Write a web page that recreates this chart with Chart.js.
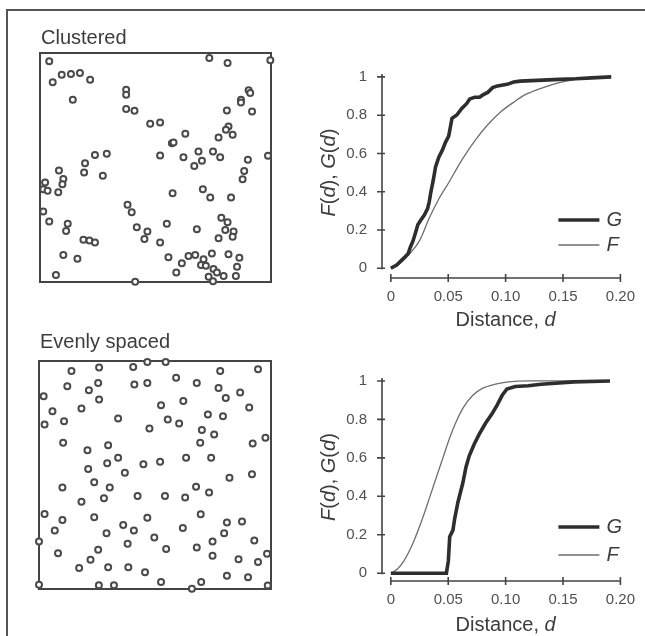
<!DOCTYPE html>
<html><head><meta charset="utf-8">
<script src="https://cdn.jsdelivr.net/npm/chart.js@4.4.1/dist/chart.umd.min.js"></script>
<style>
html,body{margin:0;padding:0;background:#fff;}
#wrap{position:relative;width:645px;height:636px;overflow:hidden;background:#fff;}
canvas{position:absolute;}
#frameTop{position:absolute;left:6px;top:9px;width:660px;height:0;border-top:2px solid #555;}
#frameLeft{position:absolute;left:6px;top:9px;width:0;height:660px;border-left:2px solid #555;}
</style></head>
<body><div id="wrap">
<div id="frameTop"></div><div id="frameLeft"></div>
<canvas id="c1" width="260" height="275" style="left:30px;top:20px"></canvas>
<canvas id="c2" width="335" height="285" style="left:310px;top:50px"></canvas>
<canvas id="c3" width="260" height="275" style="left:30px;top:328px"></canvas>
<canvas id="c4" width="335" height="281" style="left:310px;top:355px"></canvas>
</div>
<script>
// ---------- DATA ----------
const panelTitles = ['Clustered', 'Evenly spaced'];

const clusteredX = [0.040,0.733,0.812,0.997,0.055,0.094,0.134,0.173,0.217,0.373,0.373,0.142,0.903,0.910,0.870,0.870,0.373,0.409,0.809,0.918,
  0.477,0.520,0.816,0.805,0.834,0.629,0.773,0.571,0.578,0.238,0.289,0.520,0.621,0.686,0.749,0.780,0.701,0.668,0.987,0.900,
  0.195,0.191,0.082,0.101,0.097,0.272,0.884,0.877,0.022,0.014,0.033,0.079,0.574,0.705,0.737,0.827,0.014,0.379,0.397,0.040,
  0.120,0.113,0.419,0.465,0.452,0.549,0.679,0.785,0.812,0.802,0.838,0.834,0.773,0.188,0.214,0.238,0.520,0.101,0.162,0.556,
  0.614,0.643,0.672,0.708,0.744,0.816,0.863,0.697,0.718,0.751,0.766,0.853,0.590,0.069,0.730,0.795,0.848,0.412,0.749];
const clusteredY = [0.964,0.978,0.956,0.968,0.872,0.905,0.908,0.913,0.883,0.840,0.818,0.796,0.837,0.825,0.796,0.784,0.755,0.748,0.749,0.745,
  0.691,0.697,0.679,0.665,0.643,0.647,0.631,0.606,0.609,0.555,0.560,0.552,0.545,0.570,0.570,0.545,0.529,0.507,0.551,0.534,
  0.519,0.478,0.487,0.450,0.427,0.464,0.485,0.449,0.434,0.405,0.399,0.392,0.388,0.405,0.369,0.369,0.308,0.337,0.305,0.264,
  0.254,0.223,0.239,0.220,0.188,0.254,0.230,0.281,0.261,0.227,0.220,0.198,0.191,0.184,0.181,0.172,0.172,0.118,0.101,0.108,
  0.082,0.114,0.118,0.099,0.125,0.121,0.106,0.074,0.071,0.057,0.041,0.067,0.041,0.031,0.023,0.026,0.026,0.001,0.003];

const evenX = [0.140,0.259,0.406,0.467,0.546,0.781,0.944,0.122,0.215,0.255,0.411,0.467,0.591,0.680,0.774,0.867,0.020,0.259,0.805,0.058,
  0.183,0.526,0.622,0.906,0.024,0.108,0.341,0.555,0.604,0.728,0.793,0.476,0.702,0.755,0.976,0.104,0.298,0.209,0.695,0.921,
  0.341,0.294,0.450,0.522,0.634,0.742,0.212,0.370,0.821,0.918,0.238,0.101,0.305,0.677,0.280,0.425,0.543,0.630,0.733,0.183,
  0.024,0.101,0.238,0.467,0.697,0.068,0.363,0.409,0.291,0.620,0.810,0.875,0.798,0.000,0.497,0.382,0.748,0.928,0.082,0.255,
  0.548,0.680,0.222,0.748,0.860,0.983,0.944,0.173,0.298,0.385,0.457,0.810,0.901,0.000,0.258,0.323,0.526,0.659,0.699,0.986];
const evenY = [0.956,0.971,0.974,0.996,0.996,0.956,0.964,0.889,0.872,0.904,0.897,0.904,0.927,0.904,0.882,0.862,0.845,0.831,0.838,0.780,
  0.792,0.806,0.825,0.796,0.722,0.736,0.748,0.743,0.726,0.765,0.758,0.704,0.697,0.678,0.663,0.641,0.631,0.609,0.641,0.638,
  0.576,0.551,0.547,0.558,0.576,0.576,0.526,0.510,0.488,0.503,0.468,0.445,0.445,0.449,0.398,0.408,0.408,0.401,0.423,0.383,
  0.329,0.303,0.315,0.313,0.328,0.257,0.281,0.257,0.245,0.267,0.292,0.296,0.245,0.208,0.226,0.198,0.208,0.213,0.157,0.172,
  0.175,0.182,0.128,0.146,0.131,0.155,0.118,0.092,0.095,0.095,0.074,0.058,0.051,0.019,0.016,0.016,0.031,0.001,0.031,0.015];

// G and F functions, clustered pattern
const gClusteredD = [0,0.0051,0.0093,0.0122,0.015,0.017,0.0193,0.0215,0.0235,0.0263,0.0292,0.032,0.0334,0.0348,0.0368,0.039,0.0419,0.0448,0.0476,0.0504,
  0.0533,0.0575,0.0618,0.066,0.0688,0.0731,0.0773,0.0802,0.0844,0.0887,0.0929,0.1014,0.107,0.1127,0.1326,0.1467,0.161,0.175,0.192];
const gClusteredV = [0,0.017,0.042,0.059,0.076,0.11,0.143,0.186,0.228,0.253,0.278,0.312,0.346,0.396,0.455,0.531,0.582,0.616,0.658,0.691,
  0.784,0.801,0.835,0.86,0.885,0.894,0.894,0.906,0.919,0.944,0.953,0.961,0.973,0.978,0.983,0.987,0.99,0.995,1.0];
const fClusteredD = [0,0.0079,0.0164,0.0249,0.0334,0.0419,0.0504,0.0618,0.0731,0.0844,0.0958,0.107,0.1184,0.1326,0.1467,0.1609,0.175,0.192];
const fClusteredV = [0,0.025,0.076,0.143,0.261,0.363,0.447,0.565,0.666,0.75,0.818,0.868,0.911,0.944,0.970,0.987,0.995,1.0];

// G and F functions, evenly spaced pattern
const gEvenD = [0,0.0484,0.0501,0.0513,0.0541,0.0556,0.0584,0.0627,0.0655,0.0684,0.0726,0.0769,0.0826,0.0883,0.0926,0.0969,0.1011,0.1083,0.1197,0.131,0.1595,0.1909];
const gEvenV = [0,0,0.064,0.19,0.224,0.283,0.368,0.469,0.553,0.612,0.671,0.722,0.781,0.831,0.874,0.924,0.958,0.971,0.975,0.983,0.995,1.0];
const fEvenD = [0,0.0057,0.0114,0.0199,0.0285,0.0342,0.0399,0.0456,0.0513,0.057,0.0627,0.0712,0.0798,0.0912,0.1026,0.1197,0.1909];
const fEvenV = [0,0.022,0.064,0.165,0.300,0.401,0.503,0.604,0.705,0.789,0.857,0.924,0.961,0.983,0.995,1.0,1.0];

const yTickValues = [0,0.2,0.4,0.6,0.8,1];
const yTickLabels = ['0','0.2','0.4','0.6','0.8','1'];
const xTickValues = [0,0.05,0.10,0.15,0.20];
const xTickLabels = ['0','0.05','0.10','0.15','0.20'];
const seriesNames = ['G','F'];

// ---------- HELPERS ----------
const FONT = '"Liberation Sans", Arial, Helvetica, sans-serif';
const pairs = (xs, ys) => xs.map((x, i) => ({x: x, y: ys[i]}));

const boxPlugin = {
  id: 'box',
  beforeDatasetsDraw(chart, args, o) {
    const {ctx, chartArea: a} = chart;
    ctx.save();
    ctx.strokeStyle = '#444';
    ctx.lineWidth = 2;
    ctx.strokeRect(a.left, a.top, a.right - a.left, a.bottom - a.top);
    ctx.fillStyle = '#3c3c3c';
    ctx.font = '20px ' + FONT;
    ctx.textBaseline = 'alphabetic';
    ctx.textAlign = 'left';
    ctx.fillText(o.title, a.left + 1, a.top - o.gap);
    ctx.restore();
  }
};

function drawPieces(ctx, pieces, size) {
  let total = 0;
  pieces.forEach(p => { ctx.font = (p[1] ? 'italic ' : '') + size + 'px ' + FONT; p.w = ctx.measureText(p[0]).width; total += p.w; });
  let x = -total / 2;
  ctx.textAlign = 'left';
  pieces.forEach(p => { ctx.font = (p[1] ? 'italic ' : '') + size + 'px ' + FONT; ctx.fillText(p[0], x, 0); x += p.w; });
}

const axesPlugin = {
  id: 'offsetAxes',
  afterDatasetsDraw(chart, args, o) {
    const {ctx, chartArea: a, scales: {x, y}} = chart;
    ctx.save();
    ctx.strokeStyle = '#444';
    ctx.lineWidth = 1.6;
    const ax = a.left, ay = a.bottom;
    ctx.beginPath();
    ctx.moveTo(ax, y.getPixelForValue(0) + 1);
    ctx.lineTo(ax, y.getPixelForValue(1) - 3);
    yTickValues.forEach(v => { const py = y.getPixelForValue(v); ctx.moveTo(ax - 5, py); ctx.lineTo(ax + 3, py); });
    ctx.moveTo(x.getPixelForValue(0), ay);
    ctx.lineTo(x.getPixelForValue(0.2), ay);
    xTickValues.forEach(v => { const px = x.getPixelForValue(v); ctx.moveTo(px, ay - 4); ctx.lineTo(px, ay + 4); });
    ctx.stroke();

    ctx.fillStyle = '#3c3c3c';
    ctx.textBaseline = 'middle';
    // y title
    ctx.save();
    ctx.translate(a.left - 53, (y.getPixelForValue(0) + y.getPixelForValue(1)) / 2);
    ctx.rotate(-Math.PI / 2);
    drawPieces(ctx, [['F',1],['(',0],['d',1],['), ',0],['G',1],['(',0],['d',1],[')',0]], 20);
    ctx.restore();
    // x title
    ctx.save();
    ctx.translate((x.getPixelForValue(0) + x.getPixelForValue(0.2)) / 2, ay + o.xTitleGap);
    drawPieces(ctx, [['Distance, ',0],['d',1]], 20);
    ctx.restore();
    // legend
    const lx0 = a.right - 62, lx1 = a.right - 21;
    chart.data.datasets.forEach((ds, i) => {
      const ly = ay - o.legendGaps[i];
      ctx.strokeStyle = ds.borderColor;
      ctx.lineWidth = ds.borderWidth;
      ctx.beginPath(); ctx.moveTo(lx0, ly); ctx.lineTo(lx1, ly); ctx.stroke();
      ctx.font = 'italic 20px ' + FONT;
      ctx.textAlign = 'left';
      ctx.fillText(ds.label, lx1 + 7, ly);
    });
    ctx.restore();
  }
};

function scatterChart(id, title, xs, ys, gap, pad) {
  return new Chart(document.getElementById(id), {
    type: 'scatter',
    data: {datasets: [{
      data: pairs(xs, ys),
      pointRadius: 3, pointBorderWidth: 2,
      pointBorderColor: '#4a4a4a', pointBackgroundColor: '#ffffff',
      clip: false
    }]},
    options: {
      responsive: false, animation: false, devicePixelRatio: 1,
      layout: {padding: pad},
      plugins: {legend: {display: false}, tooltip: {enabled: false}, box: {title: title, gap: gap}},
      scales: {x: {display: false, min: 0, max: 1}, y: {display: false, min: 0, max: 1}}
    },
    plugins: [boxPlugin]
  });
}

function lineChart(id, gD, gV, fD, fV, yMin, yMax, xH, o) {
  const tickFont = {family: FONT, size: 15};
  return new Chart(document.getElementById(id), {
    type: 'line',
    data: {datasets: [
      {label: seriesNames[0], data: pairs(gD, gV), borderColor: '#2e2e2e', borderWidth: 3.6, pointRadius: 0, tension: 0, order: 0},
      {label: seriesNames[1], data: pairs(fD, fV), borderColor: '#6e6e6e', borderWidth: 1.3, pointRadius: 0, cubicInterpolationMode: 'monotone', order: 1}
    ]},
    options: {
      responsive: false, animation: false, devicePixelRatio: 1,
      layout: {padding: {top: 18, right: 20, left: 0, bottom: 0}},
      plugins: {legend: {display: false}, tooltip: {enabled: false}, offsetAxes: o},
      scales: {
        x: {type: 'linear', min: -0.0077, max: 0.2,
            grid: {display: false, drawTicks: false}, border: {display: false},
            afterBuildTicks: s => { s.ticks = xTickValues.map(v => ({value: v})); },
            ticks: {callback: (v, i) => xTickLabels[i], padding: 10, color: '#505050', font: tickFont, maxRotation: 0, autoSkip: false},
            afterFit: s => { s.height = xH; }},
        y: {type: 'linear', min: yMin, max: yMax,
            grid: {display: false, drawTicks: false}, border: {display: false},
            afterBuildTicks: s => { s.ticks = yTickValues.map(v => ({value: v})); },
            ticks: {callback: (v, i) => yTickLabels[i], padding: 15, color: '#505050', font: tickFont, autoSkip: false},
            afterFit: s => { s.width = 72; }}
      }
    },
    plugins: [axesPlugin]
  });
}

scatterChart('c1', panelTitles[0], clusteredX, clusteredY, 9, {left: 10, top: 33, right: 19, bottom: 13});
lineChart('c2', gClusteredD, gClusteredV, fClusteredD, fClusteredV, -0.0508, 1.0152, 57, {xTitleGap: 42, legendGaps: [58, 33]});
scatterChart('c3', panelTitles[1], evenX, evenY, 13, {left: 9, top: 33, right: 19, bottom: 14});
lineChart('c4', gEvenD, gEvenV, fEvenD, fEvenV, -0.0404, 1.0101, 55, {xTitleGap: 44, legendGaps: [54, 26]});
</script>
</body></html>
